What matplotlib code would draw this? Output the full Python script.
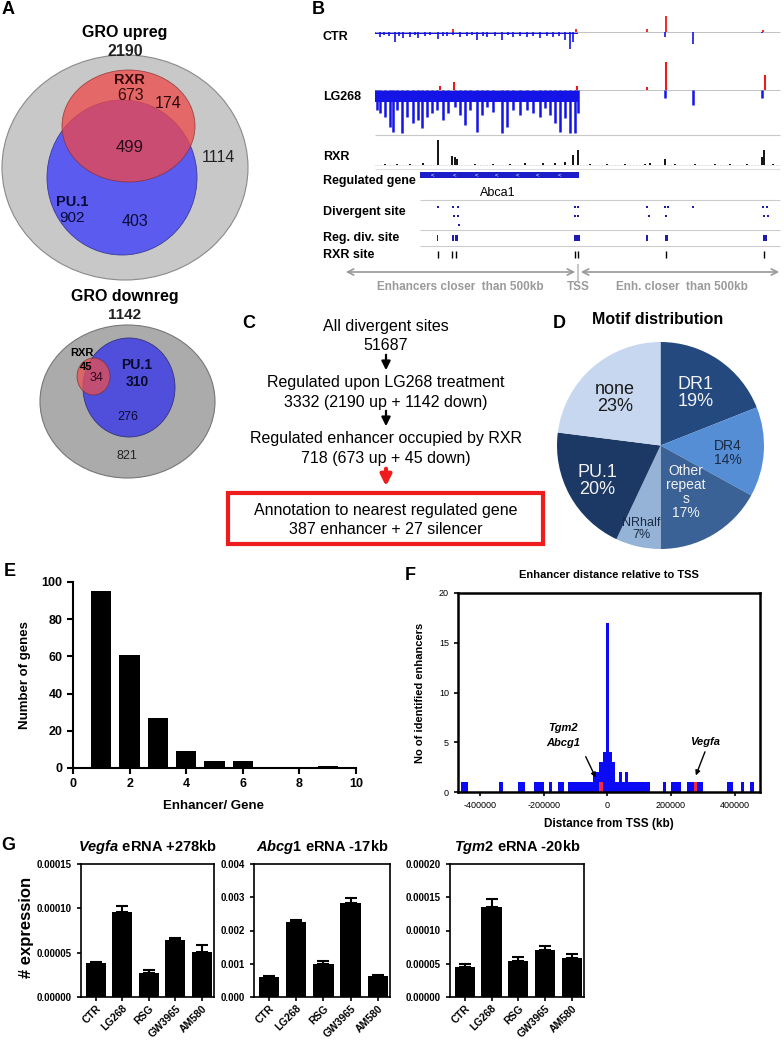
import numpy as np
import matplotlib
matplotlib.use('Agg')
import matplotlib.pyplot as plt
from matplotlib.patches import Ellipse, Rectangle

plt.rcParams['font.family'] = ['Liberation Sans', 'DejaVu Sans']
plt.rcParams['axes.unicode_minus'] = False
plt.rcParams['mathtext.fontset'] = 'custom'
plt.rcParams['mathtext.it'] = 'Liberation Sans:bold:italic'
plt.rcParams['mathtext.rm'] = 'Liberation Sans:bold'

W, H = 784, 1041

# ---------------- data ----------------
# A: venn counts
up_total, up_rxr, up_pu1 = 2190, 673, 902
up_both, up_rxr_only, up_pu1_only, up_rest = 499, 174, 403, 1114
dn_total, dn_rxr, dn_pu1 = 1142, 45, 310
dn_both, dn_pu1_only, dn_rest = 34, 276, 821

# B: browser tracks (track position 0..405, TSS at 203)
ctr_neg_pos = [5, 9, 14, 20, 24, 28, 35, 40, 43, 50, 55, 63, 68, 72, 78, 85, 92, 97, 102, 108,
               112, 120, 127, 133, 138, 145, 152, 158, 165, 172, 178, 184, 190, 195, 198,
               290, 318, 387]
ctr_neg_val = [5, 3, 4, 10, 4, 6, 5, 3, 6, 4, 3, 7, 4, 4, 3, 5, 4, 3, 8, 4,
               5, 4, 8, 3, 5, 4, 5, 4, 6, 4, 5, 4, 8, 17, 10,
               5, 12, 1]
ctr_pos_pos = [78, 201, 272, 291, 388]
ctr_pos_val = [3, 3, 3, 16, 2]

lg_neg_pos = [2, 5, 10, 15, 18, 22, 27, 32, 38, 43, 47, 52, 57, 62, 68, 73, 80, 85, 90, 95,
              102, 107, 112, 118, 127, 132, 138, 145, 152, 158, 165, 170, 175, 180, 185, 190,
              195, 200, 203, 290, 318, 387]
lg_neg_val = [20, 23, 27, 37, 42, 20, 43, 27, 33, 30, 38, 27, 23, 20, 30, 23, 17, 25, 35, 20,
              42, 25, 17, 22, 43, 37, 20, 25, 20, 23, 27, 18, 25, 33, 42, 28,
              43, 43, 23, 8, 15, 8]
lg_pos_pos = [65, 79, 202, 272, 291, 390]
lg_pos_val = [4, 8, 4, 3, 28, 15]

rxr_pos = [10, 22, 35, 48, 63, 77, 80, 82, 100, 118, 135, 150, 168, 180, 190, 198, 203,
           215, 232, 250, 270, 275, 290, 300, 320, 340, 355, 372, 387, 389, 398]
rxr_val = [1, 1, 1, 2, 25, 9, 8, 6, 1, 1, 1, 2, 2, 2, 3, 10, 15,
           1, 1, 1, 1, 2, 6, 1, 1, 1, 1, 1, 8, 15, 1]

gene_start, gene_end = 45, 204
div_pos = [63, 78, 83, 79, 83, 84, 200, 203, 200, 203, 272, 274, 290, 293, 291, 318, 388, 392, 389, 393]
div_row = [0, 0, 0, 1, 1, 2, 0, 0, 1, 1, 0, 1, 0, 0, 1, 0, 0, 0, 1, 1]
regdiv_start = [62, 77, 80, 199, 271, 290, 388]
regdiv_end = [63.5, 79, 83, 205, 273, 293, 392]
rxr_site_pos = [63, 77, 81, 200, 203, 291, 389]

# C: flow chart
flow_lines = ['All divergent sites', '51687',
              'Regulated upon LG268 treatment', '3332 (2190 up + 1142 down)',
              'Regulated enhancer occupied by RXR', '718 (673 up + 45 down)']
box_lines = ['Annotation to nearest regulated gene', '387 enhancer + 27 silencer']

# D: motif pie
motif_label = ['DR1', 'DR4', 'Other\nrepeat\ns', 'NRhalf', 'PU.1', 'none']
motif_pct = [19, 14, 17, 7, 20, 23]
motif_color = ['#23497f', '#558ed5', '#3b6296', '#95b3d7', '#1c3864', '#c6d7ef']
motif_text_color = ['#f2f2f2', '#1a2a44', '#f2f2f2', '#1a2a44', '#f2f2f2', '#1a1a1a']

# E: enhancers per gene
e_x = [1, 2, 3, 4, 5, 6, 9]
e_n = [95, 61, 27, 9, 4, 4, 1]

# F: distance histogram (bin centres, counts)
f_bins = [-455000, -445000, -335000, -275000, -265000, -225000, -215000, -205000, -180000,
          -150000, -140000, -120000, -110000, -100000, -90000, -80000, -70000, -60000,
          -50000, -40000, -30000, -20000, -10000, 0, 10000, 20000, 30000, 40000, 50000,
          60000, 70000, 80000, 90000, 100000, 110000, 120000, 130000, 180000, 205000,
          215000, 225000, 255000, 265000, 275000, 285000, 295000, 380000, 390000, 425000, 455000]
f_counts = [1, 1, 1, 1, 1, 1, 1, 1, 1,
            1, 1, 1, 1, 1, 1, 1, 1, 1,
            1, 2, 2, 3, 4, 17, 4, 3, 1, 2, 1,
            2, 1, 1, 1, 1, 1, 1, 1, 1, 1,
            1, 1, 1, 1, 1, 1, 1, 1, 1, 1, 1]
f_red_bins = [-20000, 278000]
f_red_counts = [1, 1]
f_xticks = [-400000, -200000, 0, 200000, 400000]

# G: eRNA expression
g_groups = ['CTR', 'LG268', 'RSG', 'GW3965', 'AM580']
g_gene = ['Vegfa', 'Abcg1', 'Tgm2']
g_site = ['+278kb', '-17kb', '-20kb']
g_vals = [[0.0000385, 0.000096, 0.0000275, 0.000064, 0.000051],
          [0.0006, 0.00226, 0.00098, 0.00283, 0.00062],
          [0.000045, 0.000136, 0.000054, 0.000070, 0.000059]]
g_err = [[0.0000012, 0.0000065, 0.0000035, 0.000003, 0.000008],
         [0.00003, 0.00007, 0.0001, 0.00015, 0.00005],
         [0.000005, 0.000011, 0.000006, 0.000006, 0.000006]]
g_ymax = [0.00015, 0.004, 0.0002]
g_yticks = [[0.0, 0.00005, 0.0001, 0.00015],
            [0.0, 0.001, 0.002, 0.003, 0.004],
            [0.0, 0.00005, 0.0001, 0.00015, 0.0002]]
g_fmt = ['{:.5f}', '{:.3f}', '{:.5f}']

# ---------------- figure ----------------
fig = plt.figure(figsize=(W / 100, H / 100), dpi=100)


def px_axes(x0, y0, x1, y1):
    return fig.add_axes([x0 / W, 1 - y1 / H, (x1 - x0) / W, (y1 - y0) / H])


def overlay():
    a = fig.add_axes([0, 0, 1, 1])
    a.set_xlim(0, W)
    a.set_ylim(H, 0)
    a.axis('off')
    return a


ov = overlay()

for letter, lx, ly in [('A', 8, 10), ('B', 318, 10), ('C', 249, 323), ('D', 559, 323),
                       ('E', 10, 572), ('F', 410, 575), ('G', 8, 845)]:
    ov.text(lx, ly, letter, fontsize=13, fontweight='bold', ha='center', va='center')

# ---- A: venn diagrams ----
ov.add_patch(Ellipse((125, 167.5), 246, 225, fc='#c8c8c8', ec='#8a8a8a', lw=0.8))
ov.add_patch(Ellipse((122, 177.5), 150, 155, fc='#5b5bef', ec='#3a3a99', lw=0.6))
ov.add_patch(Ellipse((128.5, 126), 133, 112, fc='#f04848', ec='#8a2a2a', lw=0.6, alpha=0.75))
ov.text(125, 33, 'GRO upreg', fontsize=11.5, fontweight='bold', ha='center', va='center')
ov.text(125, 52, str(up_total), fontsize=11.5, fontweight='bold', ha='center', va='center', color='#222222')
ov.text(129, 80, 'RXR', fontsize=10.5, fontweight='bold', ha='center', va='center', color='#3a0a0a')
ov.text(131, 95, str(up_rxr), fontsize=11.5, ha='center', va='center', color='#3a0a0a')
ov.text(168, 103, str(up_rxr_only), fontsize=11.5, ha='center', va='center', color='#2a0a0a')
ov.text(130, 147, str(up_both), fontsize=12, ha='center', va='center', color='#2a0a1a')
ov.text(218, 158, str(up_rest), fontsize=11.5, ha='center', va='center', color='#222222')
ov.text(72, 202, 'PU.1', fontsize=10.5, fontweight='bold', ha='center', va='center', color='#0a0a3a')
ov.text(72, 218, str(up_pu1), fontsize=11, ha='center', va='center', color='#0a0a3a')
ov.text(135, 222, str(up_pu1_only), fontsize=11.5, ha='center', va='center', color='#0a0a3a')

ov.add_patch(Ellipse((127.5, 401.5), 175, 153, fc='#ababab', ec='#777777', lw=0.8))
ov.add_patch(Ellipse((129, 387.5), 92, 99, fc='#4f4fdc', ec='#33337a', lw=0.6))
ov.add_patch(Ellipse((93.5, 376.5), 33, 37, fc='#e85050', ec='#7a2a2a', lw=0.6, alpha=0.75))
ov.text(125, 297, 'GRO downreg', fontsize=11.5, fontweight='bold', ha='center', va='center')
ov.text(125, 315, str(dn_total), fontsize=11, fontweight='bold', ha='center', va='center', color='#222222')
ov.text(82, 353, 'RXR', fontsize=8, fontweight='bold', ha='center', va='center')
ov.text(86, 367, str(dn_rxr), fontsize=8, fontweight='bold', ha='center', va='center')
ov.text(97, 378, str(dn_both), fontsize=9, ha='center', va='center', color='#2a0a1a')
ov.text(137, 365, 'PU.1', fontsize=10, fontweight='bold', ha='center', va='center', color='#0a0a2a')
ov.text(137, 382, str(dn_pu1), fontsize=10, fontweight='bold', ha='center', va='center', color='#0a0a2a')
ov.text(128, 417, str(dn_pu1_only), fontsize=9, ha='center', va='center', color='#0a0a2a')
ov.text(127, 456, str(dn_rest), fontsize=9, ha='center', va='center', color='#222222')

# ---- B: genome browser ----
X0 = 375
bx = lambda p: X0 + np.asarray(p, dtype=float)
blue, red = '#1414e6', '#ee1a1a'

for lab, ly in [('CTR', 37), ('LG268', 97), ('RXR', 157), ('Regulated gene', 181),
                ('Divergent site', 212), ('Reg. div. site', 238), ('RXR site', 255)]:
    ov.text(323, ly, lab, fontsize=9, fontweight='bold', ha='left', va='center')

# CTR
base = 31.7
ov.hlines(base, X0, 780, color='#b8b8b8', lw=0.6)
ov.fill_between([bx(0), bx(203)], base, base + 2.5, color=blue, lw=0)
ov.vlines(bx(ctr_neg_pos), base, base + np.array(ctr_neg_val), color=blue, lw=1.2)
ov.vlines(bx(ctr_pos_pos), base, base - np.array(ctr_pos_val), color=red, lw=1.3)
# LG268
base = 90
ov.hlines(base, X0, 780, color='#b8b8b8', lw=0.6)
ov.fill_between([bx(0), bx(203)], base, base + 12, color=blue, lw=0)
ov.vlines(bx(lg_neg_pos), base, base + np.array(lg_neg_val), color=blue, lw=1.8)
ov.vlines(bx(lg_pos_pos), base, base - np.array(lg_pos_val), color=red, lw=1.5)
ov.hlines(134.7, X0, 780, color='#c8c8c8', lw=0.8)
# RXR
base = 165
ov.vlines(bx(rxr_pos), base, base - np.array(rxr_val), color='black', lw=1.3)
ov.hlines(base, X0, 780, color='#999999', lw=0.4, linestyles=':')
ov.hlines(168.5, X0, 780, color='#e0e0e0', lw=0.8)
# gene
ov.add_patch(Rectangle((bx(gene_start), 172), gene_end - gene_start, 6, fc='#1c1cc8', ec='none'))
for p in [58, 80, 102, 122, 143, 163, 185]:
    ov.text(bx(p), 175, '<', color='white', fontsize=4.5, ha='center', va='center')
ov.text(498, 193, 'Abca1', fontsize=9, ha='center', va='center')
ov.hlines([200, 230, 246], 420, 780, color='#cccccc', lw=0.8)
# divergent sites
ov.plot(bx(div_pos), 207 + 9 * np.array(div_row), 's', color='#1c1cb0', ms=1.6, mew=0)
for s, e in zip(regdiv_start, regdiv_end):
    ov.add_patch(Rectangle((bx(s), 235), max(e - s, 1.2), 6, fc='#1c1cb0', ec='none'))
ov.vlines(bx(rxr_site_pos), 251, 258, color='black', lw=1.0)
# distance arrows
ov.annotate('', xy=(343, 272), xytext=(578, 272),
            arrowprops=dict(arrowstyle='<->', color='#9a9a9a', lw=1.2, mutation_scale=11))
ov.annotate('', xy=(782, 272), xytext=(578, 272),
            arrowprops=dict(arrowstyle='<->', color='#9a9a9a', lw=1.2, mutation_scale=11))
ov.vlines(578, 264, 281, color='#c8c8c8', lw=1.5)
ov.text(460, 287, 'Enhancers closer  than 500kb', color='#9a9a9a', fontsize=8.5,
        fontweight='bold', ha='center', va='center')
ov.text(578, 287, 'TSS', color='#9a9a9a', fontsize=8.5, fontweight='bold', ha='center', va='center')
ov.text(682, 287, 'Enh. closer  than 500kb', color='#9a9a9a', fontsize=8.5,
        fontweight='bold', ha='center', va='center')

# ---- C: flow chart ----
cx = 386
for txt, ty in zip(flow_lines, [327, 345, 382, 402, 438, 458]):
    ov.text(cx, ty, txt, fontsize=11.5, ha='center', va='center')
for y0, y1 in [(352, 373), (408, 429)]:
    ov.annotate('', xy=(cx, y1), xytext=(cx, y0),
                arrowprops=dict(arrowstyle='-|>', color='black', lw=1.6, mutation_scale=13))
ov.annotate('', xy=(cx, 489), xytext=(cx, 466),
            arrowprops=dict(arrowstyle='-|>', color='#ee1c1c', lw=3, mutation_scale=16))
ov.add_patch(Rectangle((228, 493), 315, 51, fill=False, ec='#ee1c1c', lw=3))
for txt, ty in zip(box_lines, [510, 529]):
    ov.text(cx, ty, txt, fontsize=11.5, ha='center', va='center')

# ---- D: pie ----
ov.text(658, 320, 'Motif distribution', fontsize=11.5, fontweight='bold', ha='center', va='center')
axp = px_axes(557, 342, 764, 549)
axp.pie(motif_pct, colors=motif_color, startangle=90, counterclock=False,
        wedgeprops=dict(linewidth=0))
axp.set_xlim(-1, 1)
axp.set_ylim(-1, 1)

# ---- E: bar chart ----
axe = px_axes(73, 582, 356, 768)
axe.bar(e_x, e_n, width=0.72, color='black')
axe.set_xlim(0, 10)
axe.set_ylim(0, 100)
axe.set_xticks([0, 2, 4, 6, 8, 10])
axe.set_yticks([0, 20, 40, 60, 80, 100])
for s in ['top', 'right']:
    axe.spines[s].set_visible(False)
for s in ['left', 'bottom']:
    axe.spines[s].set_linewidth(1.5)
axe.tick_params(width=1.5, length=4, labelsize=9)
for t in axe.get_xticklabels() + axe.get_yticklabels():
    t.set_fontweight('bold')
axe.set_ylabel('Number of genes', fontsize=9.5, fontweight='bold')
axe.yaxis.set_label_coords(-0.15, 0.5)
axe.set_xlabel('Enhancer/ Gene', fontsize=9.5, fontweight='bold')
axe.xaxis.set_label_coords(0.495, -0.17)

# ---- F: histogram ----
axf = px_axes(458, 593, 760, 792)
axf.bar(f_bins, f_counts, width=10000, color='#0a0af5', lw=0)
axf.bar(f_red_bins, f_red_counts, width=10000, color='#f02a3a', lw=0)
axf.set_xlim(-470000, 480000)
axf.set_ylim(0, 20)
axf.set_xticks(f_xticks)
axf.set_xticklabels([str(v) for v in f_xticks])
axf.set_yticks([0, 5, 10, 15, 20])
for s in axf.spines.values():
    s.set_linewidth(1.8)
axf.tick_params(width=1.2, length=3, labelsize=6.5)
axf.set_title('Enhancer distance relative to TSS', fontsize=8, fontweight='bold', pad=11)
axf.set_ylabel('No of identified enhancers', fontsize=8, fontweight='bold')
axf.yaxis.set_label_coords(-0.11, 0.5)
axf.set_xlabel('Distance from TSS (kb)', fontsize=8.5, fontweight='bold')
axf.xaxis.set_label_coords(0.5, -0.13)
axf.text(-140000, 6.4, 'Tgm2', fontsize=8, fontweight='bold', fontstyle='italic', ha='center', va='center')
axf.text(-140000, 4.9, 'Abcg1', fontsize=8, fontweight='bold', fontstyle='italic', ha='center', va='center')
axf.text(307000, 5.0, 'Vegfa', fontsize=8, fontweight='bold', fontstyle='italic', ha='center', va='center')
axf.annotate('', xy=(-33000, 1.2), xytext=(-72000, 3.8),
             arrowprops=dict(arrowstyle='-|>', color='black', lw=1.0, mutation_scale=7))
axf.annotate('', xy=(275000, 1.4), xytext=(310000, 4.3),
             arrowprops=dict(arrowstyle='-|>', color='black', lw=1.0, mutation_scale=7))

# ---- G: eRNA bars ----
g_boxes = [(81, 214), (254, 390), (450, 584)]
for i, (x0, x1) in enumerate(g_boxes):
    ax = px_axes(x0, 864, x1, 997)
    xs = np.arange(len(g_groups))
    ax.bar(xs, g_vals[i], width=0.75, color='black')
    ax.errorbar(xs, g_vals[i], yerr=[np.zeros(len(xs)), g_err[i]], fmt='none',
                ecolor='black', elinewidth=1.5, capsize=4, capthick=1.5)
    ax.set_xlim(-0.55, 4.45)
    ax.set_ylim(0, g_ymax[i])
    ax.set_yticks(g_yticks[i])
    ax.set_yticklabels([g_fmt[i].format(v) for v in g_yticks[i]])
    ax.set_xticks(xs)
    ax.set_xticklabels(g_groups, rotation=45, ha='right', rotation_mode='anchor')
    for s in ax.spines.values():
        s.set_linewidth(1.2)
    ax.tick_params(width=1.2, length=3, labelsize=7)
    ax.tick_params(axis='x', labelsize=7.5, pad=1.5)
    for t in ax.get_xticklabels() + ax.get_yticklabels():
        t.set_fontweight('bold')
    ax.set_title(r'$\it{' + g_gene[i] + '}$' + ' eRNA ' + g_site[i], fontsize=10.5,
                 fontweight='bold', pad=9)

ov.text(27, 927, '# expression', rotation=90, fontsize=12, fontweight='bold', ha='center', va='center')

# ---- texts drawn above the pie ----
top = overlay()
pie_txt_pos = [(696, 393), (728, 453), (686, 492), (641, 529), (597, 481), (615, 398)]
pie_txt_size = [13, 10, 10, 9, 13, 13]
for lab, pct, (tx, ty), fs, tc in zip(motif_label, motif_pct, pie_txt_pos, pie_txt_size, motif_text_color):
    top.text(tx, ty, f'{lab}\n{pct}%', fontsize=fs, color=tc, ha='center', va='center',
             linespacing=1.0)

fig.savefig('out.png', dpi=100)
